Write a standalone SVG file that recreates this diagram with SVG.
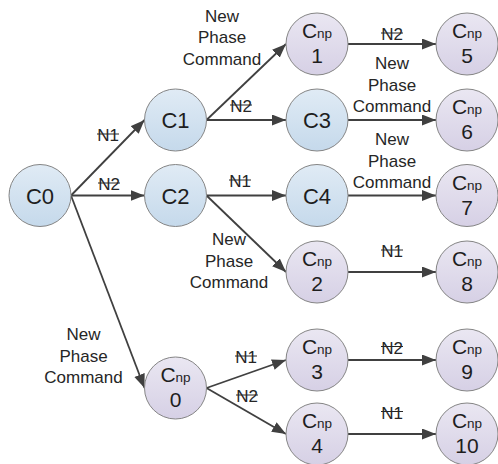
<svg xmlns="http://www.w3.org/2000/svg" width="498" height="464" viewBox="0 0 498 464">
<style>
.nb{fill:url(#gb);stroke:#858585;stroke-width:1}
.np{fill:url(#gp);stroke:#858585;stroke-width:1}
.t{font-family:"Liberation Sans",Arial,sans-serif;fill:#1e1e1e;text-anchor:middle}
.big{font-size:22px}
.c{font-size:21px}
.s{font-size:13.5px}
.lb{font-family:"Liberation Sans",Arial,sans-serif;font-size:17px;fill:#262626;text-anchor:middle}
.e{stroke:#404040;stroke-width:1.8;fill:none;marker-end:url(#ah)}
.k{stroke:#262626;stroke-width:1}
</style>
<defs>
<linearGradient id="gb" x1="0" y1="0" x2="0" y2="1"><stop offset="0" stop-color="#e0ebf5"/><stop offset="1" stop-color="#c5d9eb"/></linearGradient>
<linearGradient id="gp" x1="0" y1="0" x2="0" y2="1"><stop offset="0" stop-color="#eae7f2"/><stop offset="1" stop-color="#d6d0e5"/></linearGradient>
<marker id="ah" markerUnits="userSpaceOnUse" markerWidth="15" markerHeight="12" refX="14" refY="5.5" orient="auto"><path d="M0,0 L14,5.5 L0,11 z" fill="#404040"/></marker>
</defs>
<g id="connectors">
<line class="e" x1="71" y1="195.5" x2="144.5" y2="120"/>
<text class="lb" x="108" y="141">N1</text><line class="k" x1="97" y1="134" x2="119" y2="134"/>
<line class="e" x1="71" y1="195.5" x2="144.5" y2="195.5"/>
<text class="lb" x="109" y="190">N2</text><line class="k" x1="98" y1="183" x2="120" y2="183"/>
<line class="e" x1="71" y1="195.5" x2="144.5" y2="388"/>
<text class="lb" x="83.5" y="340">New</text><text class="lb" x="83.5" y="361.5">Phase</text><text class="lb" x="83.5" y="383">Command</text>
<line class="e" x1="206.5" y1="120" x2="286" y2="44"/>
<text class="lb" x="222" y="21.5">New</text><text class="lb" x="222" y="43">Phase</text><text class="lb" x="222" y="64.5">Command</text>
<line class="e" x1="206.5" y1="120" x2="286" y2="120"/>
<text class="lb" x="241" y="112">N2</text><line class="k" x1="230" y1="105" x2="252" y2="105"/>
<line class="e" x1="206.5" y1="195.5" x2="286" y2="195.5"/>
<text class="lb" x="240" y="187">N1</text><line class="k" x1="229" y1="180" x2="251" y2="180"/>
<line class="e" x1="206.5" y1="195.5" x2="286" y2="272"/>
<text class="lb" x="229" y="245">New</text><text class="lb" x="229" y="266.5">Phase</text><text class="lb" x="229" y="288">Command</text>
<line class="e" x1="206.5" y1="388" x2="286" y2="360"/>
<text class="lb" x="246" y="363">N1</text><line class="k" x1="235" y1="356" x2="257" y2="356"/>
<line class="e" x1="206.5" y1="388" x2="286" y2="434"/>
<text class="lb" x="247" y="402">N2</text><line class="k" x1="236" y1="395" x2="258" y2="395"/>
<line class="e" x1="348" y1="44" x2="436" y2="44"/>
<text class="lb" x="392" y="40">N2</text><line class="k" x1="381" y1="33" x2="403" y2="33"/>
<line class="e" x1="348" y1="120" x2="436" y2="120"/>
<text class="lb" x="392" y="69">New</text><text class="lb" x="392" y="90.5">Phase</text><text class="lb" x="392" y="112">Command</text>
<line class="e" x1="348" y1="195.5" x2="436" y2="195.5"/>
<text class="lb" x="392" y="145">New</text><text class="lb" x="392" y="166.5">Phase</text><text class="lb" x="392" y="188">Command</text>
<line class="e" x1="348" y1="272" x2="436" y2="272"/>
<text class="lb" x="392" y="257">N1</text><line class="k" x1="381" y1="250" x2="403" y2="250"/>
<line class="e" x1="348" y1="360" x2="436" y2="360"/>
<text class="lb" x="392" y="353.5">N2</text><line class="k" x1="381" y1="346.5" x2="403" y2="346.5"/>
<line class="e" x1="348" y1="434" x2="436" y2="434"/>
<text class="lb" x="392" y="418.5">N1</text><line class="k" x1="381" y1="411.5" x2="403" y2="411.5"/>
</g>
<g id="C0"><circle class="nb" cx="40" cy="195.5" r="31"/><text class="t big" x="40" y="203.5">C0</text></g>
<g id="C1"><circle class="nb" cx="175.5" cy="120" r="31"/><text class="t big" x="175.5" y="128">C1</text></g>
<g id="C2"><circle class="nb" cx="175.5" cy="195.5" r="31"/><text class="t big" x="175.5" y="203.5">C2</text></g>
<g id="C3"><circle class="nb" cx="317" cy="120" r="31"/><text class="t big" x="317" y="128">C3</text></g>
<g id="C4"><circle class="nb" cx="317" cy="195.5" r="31"/><text class="t big" x="317" y="203.5">C4</text></g>
<g id="Cnp0"><circle class="np" cx="175.5" cy="388" r="31"/><text class="t c" x="175.5" y="382">C<tspan class="s">np</tspan></text><text class="t c" x="175.5" y="407">0</text></g>
<g id="Cnp1"><circle class="np" cx="317" cy="44" r="31"/><text class="t c" x="317" y="38">C<tspan class="s">np</tspan></text><text class="t c" x="317" y="63">1</text></g>
<g id="Cnp2"><circle class="np" cx="317" cy="272" r="31"/><text class="t c" x="317" y="266">C<tspan class="s">np</tspan></text><text class="t c" x="317" y="291">2</text></g>
<g id="Cnp3"><circle class="np" cx="317" cy="360" r="31"/><text class="t c" x="317" y="354">C<tspan class="s">np</tspan></text><text class="t c" x="317" y="379">3</text></g>
<g id="Cnp4"><circle class="np" cx="317" cy="434" r="31"/><text class="t c" x="317" y="428">C<tspan class="s">np</tspan></text><text class="t c" x="317" y="453">4</text></g>
<g id="Cnp5"><circle class="np" cx="467" cy="44" r="31"/><text class="t c" x="467" y="38">C<tspan class="s">np</tspan></text><text class="t c" x="467" y="63">5</text></g>
<g id="Cnp6"><circle class="np" cx="467" cy="120" r="31"/><text class="t c" x="467" y="114">C<tspan class="s">np</tspan></text><text class="t c" x="467" y="139">6</text></g>
<g id="Cnp7"><circle class="np" cx="467" cy="195.5" r="31"/><text class="t c" x="467" y="189.5">C<tspan class="s">np</tspan></text><text class="t c" x="467" y="214.5">7</text></g>
<g id="Cnp8"><circle class="np" cx="467" cy="272" r="31"/><text class="t c" x="467" y="266">C<tspan class="s">np</tspan></text><text class="t c" x="467" y="291">8</text></g>
<g id="Cnp9"><circle class="np" cx="467" cy="360" r="31"/><text class="t c" x="467" y="354">C<tspan class="s">np</tspan></text><text class="t c" x="467" y="379">9</text></g>
<g id="Cnp10"><circle class="np" cx="467" cy="434" r="31"/><text class="t c" x="467" y="428">C<tspan class="s">np</tspan></text><text class="t c" x="467" y="453">10</text></g>
</svg>
